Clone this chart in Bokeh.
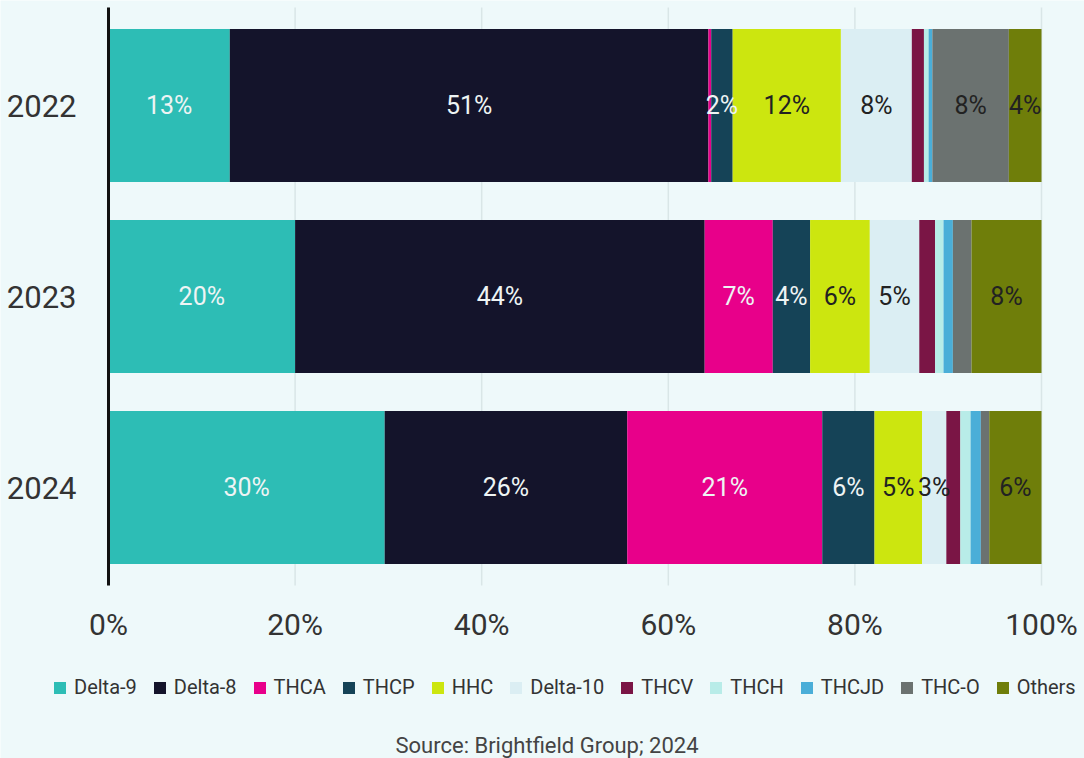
from bokeh.plotting import figure
from bokeh.models import (ColumnDataSource, Range1d, FixedTicker,
                          PrintfTickFormatter, Legend, LegendItem, Label)
from bokeh.core.properties import value
from bokeh.embed import file_html
from bokeh.resources import INLINE

# ---------------- data ----------------
years = ["2022", "2023", "2024"]
series = ["Delta-9", "Delta-8", "THCA", "THCP", "HHC", "Delta-10",
          "THCV", "THCH", "THCJD", "THC-O", "Others"]
delta9 = [13.0, 20.0, 29.6]
delta8 = [51.3, 43.9, 26.0]
thca = [0.3, 7.3, 20.9]
thcp = [2.3, 4.0, 5.6]
hhc = [11.6, 6.4, 5.1]
delta10 = [7.6, 5.3, 2.6]
thcv = [1.3, 1.7, 1.5]
thch = [0.5, 0.9, 1.1]
thcjd = [0.4, 1.0, 1.1]
thco = [8.2, 2.0, 0.9]
others = [3.5, 7.5, 5.6]
x_ticks = [0, 20, 40, 60, 80, 100]
source_note = "Source: Brightfield Group; 2024"

values = [delta9, delta8, thca, thcp, hhc, delta10, thcv, thch, thcjd, thco, others]
colors = ["#2dbdb5", "#14142b", "#e8008a", "#154357", "#cce60f", "#dbeef3",
          "#7a1545", "#b8ece8", "#4aaed8", "#6b7270", "#6f7e0a"]
light_text = {"Delta-9", "Delta-8", "THCA", "THCP"}
bg = "#eef9fa"

# ---------------- geometry (pixels) ----------------
W, H = 1084, 758
plot_left, plot_right = 108, 1041        # 0% and 100%
row_px = 191                              # distance between bars
first_row_px = 105                        # centre of first bar
area_top_px, area_bottom_px = 7, 585      # extent of y axis line

pct_px = (plot_right - plot_left) / 100.0
x_start = -plot_left / pct_px
x_end = 100 + (W - plot_right) / pct_px
to_u = lambda px: (px - first_row_px) / row_px
y_top, y_bottom = to_u(0), to_u(H)
a_top, a_bottom = to_u(area_top_px), to_u(area_bottom_px)

p = figure(width=W, height=H,
           x_range=Range1d(x_start, x_end),
           y_range=Range1d(y_bottom, y_top),
           output_backend="svg", toolbar_location=None,
           min_border=0,
           background_fill_color=bg, border_fill_color=bg,
           outline_line_color=None)
p.xgrid.visible = False
p.ygrid.visible = False

# grid lines (only across the bar area)
p.segment(x0=x_ticks, x1=x_ticks, y0=[a_top] * len(x_ticks),
          y1=[a_bottom] * len(x_ticks), line_color="#d9e6e7",
          line_width=1.5, level="underlay")

rows = list(range(len(years)))
cum = [0.0] * len(years)
items = []
lx, ly, lt, lc = [], [], [], []
for name, vals, col in zip(series, values, colors):
    left = cum[:]
    right = [a + b for a, b in zip(cum, vals)]
    src = ColumnDataSource(dict(y=rows, left=left, right=right))
    r = p.hbar(y="y", left="left", right="right", height=0.8, source=src,
               fill_color=col, line_color=None)
    items.append(LegendItem(label=name, renderers=[r]))
    for yi, l, v in zip(rows, left, vals):
        if v >= 2.2:
            lx.append(l + v / 2)
            ly.append(yi)
            lt.append("%d%%" % int(v + 0.5))
            lc.append("#eef4f4" if name in light_text else "#222222")
    cum = right

lsrc = ColumnDataSource(dict(x=lx, y=ly, text=lt, color=lc))
p.text(x="x", y="y", text="text", text_color="color", source=lsrc,
       text_align="center", text_baseline="middle",
       text_font=value("Roboto"), text_font_size="25px")

# x axis
xa = p.xaxis[0]
xa.fixed_location = a_bottom
xa.bounds = (0, 100)
xa.ticker = FixedTicker(ticks=x_ticks)
xa.formatter = PrintfTickFormatter(format="%d%%")
xa.axis_line_color = None
xa.major_tick_line_color = None
xa.minor_tick_line_color = None
xa.major_label_text_font = "Roboto"
xa.major_label_text_font_size = "30px"
xa.major_label_text_color = "#333333"
xa.major_label_standoff = 15

# y axis
ya = p.yaxis[0]
ya.fixed_location = 0
ya.bounds = (a_top, a_bottom)
ya.ticker = FixedTicker(ticks=rows)
ya.major_label_overrides = {i: y for i, y in zip(rows, years)}
ya.axis_line_color = "#111111"
ya.axis_line_width = 3
ya.major_tick_line_color = None
ya.minor_tick_line_color = None
ya.major_label_text_font = "Roboto"
ya.major_label_text_font_size = "31px"
ya.major_label_text_color = "#333333"
ya.major_label_standoff = 26

legend = Legend(items=items, orientation="horizontal", location=(52, 59),
                label_text_font="Roboto", label_text_font_size="20px",
                label_text_color="#333333", glyph_width=15, glyph_height=15,
                label_standoff=7, spacing=15, padding=0, margin=0,
                border_line_color=None, background_fill_alpha=0)
p.add_layout(legend, "center")

note = Label(x=395, y=13, x_units="screen", y_units="screen",
             text=source_note, text_baseline="middle", text_align="left",
             text_font="Roboto", text_font_size="22px",
             text_color="#444444")
p.add_layout(note)

open("out.html", "w").write(file_html(p, INLINE))
